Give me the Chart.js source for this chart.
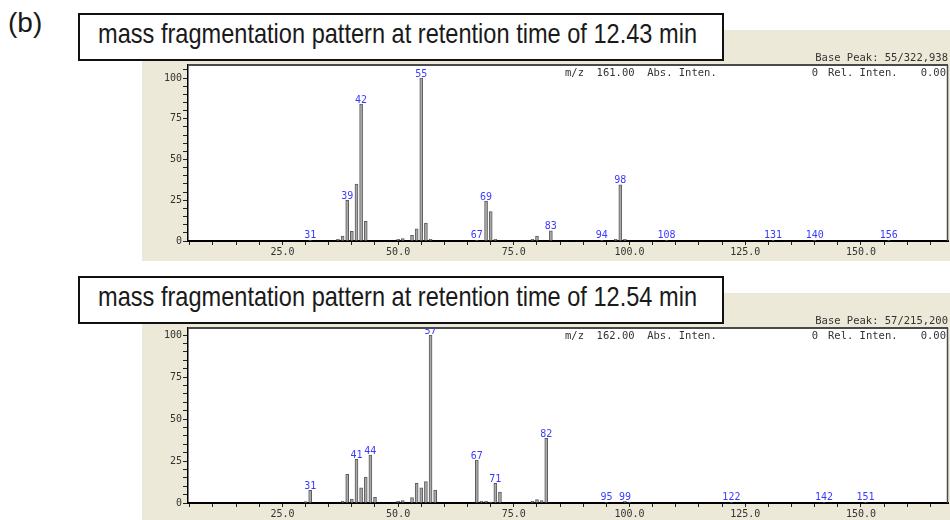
<!DOCTYPE html>
<html><head><meta charset="utf-8">
<script src="https://cdn.jsdelivr.net/npm/chart.js@4/dist/chart.umd.min.js"></script>
<style>
html,body{margin:0;padding:0;background:#fff;width:950px;height:520px;overflow:hidden;}
body{position:relative;font-family:'Liberation Sans',Arial,sans-serif;}
.panel{position:absolute;left:142px;width:808px;background:#ECE9D8;}
#p1{top:30px;height:231px;}
#p2{top:293px;height:227px;}
.panel canvas{position:absolute;left:0;top:0;}
.tbox{position:absolute;left:78px;width:646px;height:48px;border:2px solid #111;background:#fff;box-sizing:border-box;}
.ttxt{position:absolute;white-space:nowrap;font-size:28px;line-height:28px;color:#1a1a1a;transform-origin:0 50%;}
#blab{position:absolute;left:8px;top:9px;font-size:28px;line-height:28px;color:#1a1a1a;}
</style></head>
<body>
<div class="panel" id="p1"><canvas id="c1" width="808" height="231"></canvas></div>
<div class="panel" id="p2"><canvas id="c2" width="808" height="227"></canvas></div>
<div id="blab">(b)</div>
<div class="tbox" style="top:13px"></div>
<div class="ttxt" id="t1" style="left:98px;top:20px">mass fragmentation pattern at retention time of 12.43 min</div>
<div class="tbox" style="top:276px"></div>
<div class="ttxt" id="t2" style="left:98px;top:283px">mass fragmentation pattern at retention time of 12.54 min</div>
<script>
// ---- data: spectrum at 12.43 min ----
const mzTop = [31, 37, 38, 39, 40, 41, 42, 43, 50, 51, 53, 54, 55, 56, 57, 67, 69, 70, 71, 79, 80, 83, 94, 97, 98, 99, 108, 131, 140, 156];
const intTop = [0.4, 1, 3, 25, 6, 35, 84, 12, 1, 1.5, 3.5, 7.5, 100, 11, 1, 0.4, 24.5, 18, 1, 1, 3, 6.3, 0.4, 1, 34.5, 1, 0.4, 0.4, 0.4, 0.4];
const labelsTop = [31, 39, 42, 55, 67, 69, 83, 94, 98, 108, 131, 140, 156];
// ---- data: spectrum at 12.54 min ----
const mzBot = [30, 31, 38, 39, 40, 41, 42, 43, 44, 45, 50, 51, 53, 54, 55, 56, 57, 58, 67, 68, 69, 70, 71, 72, 79, 80, 81, 82, 95, 99, 100, 122, 142, 151];
const intBot = [0.8, 7.5, 1, 17, 2.4, 26, 9, 15.5, 28.6, 3.4, 1, 1.5, 3.3, 11.7, 9, 12.8, 100, 7.7, 25.6, 1, 1, 0.5, 11.7, 6.5, 1, 2, 1.5, 38.5, 0.4, 1, 0.5, 0.4, 0.4, 0.4];
const labelsBot = [31, 41, 44, 57, 67, 71, 82, 95, 99, 122, 142, 151];
// ---- axis ticks ----
const xTickVals = [5,10,15,20,25,30,35,40,45,50,55,60,65,70,75,80,85,90,95,100,105,110,115,120,125,130,135,140,145,150,155,160,165];
const xLabelVals = [25, 50, 75, 100, 125, 150];
const yTickVals = [0,5,10,15,20,25,30,35,40,45,50,55,60,65,70,75,80,85,90,95,100,105];
const yLabelVals = [0, 25, 50, 75, 100];
// header texts
const headTop = {base:'Base Peak: 55/322,938', mz:'m/z  161.00  Abs. Inten.'};
const headBot = {base:'Base Peak: 57/215,200', mz:'m/z  162.00  Abs. Inten.'};

function fitTitle(id, w){
  const el=document.getElementById(id);
  const nat=el.getBoundingClientRect().width;
  el.style.transform='scaleX('+(w/nat)+')';
}
fitTitle('t1',599); fitTitle('t2',599);

const MONO='"DejaVu Sans Mono", monospace';

const boxPlugin = {
  id:'plotBox',
  beforeDraw(chart){
    const {ctx, chartArea:a}=chart;
    ctx.save(); ctx.fillStyle='#fff'; ctx.fillRect(a.left,a.top,a.right-a.left,a.bottom-a.top); ctx.restore();
  },
  beforeDatasetsDraw(chart){
    const {ctx, chartArea:a}=chart;
    ctx.save(); ctx.strokeStyle='#4a4a4a'; ctx.lineWidth=2;
    ctx.beginPath(); ctx.moveTo(a.left,a.top); ctx.lineTo(a.right,a.top); ctx.stroke();
    ctx.lineWidth=1.5; ctx.beginPath(); ctx.moveTo(a.right-0.5,a.top); ctx.lineTo(a.right-0.5,a.bottom); ctx.stroke();
    ctx.restore();
  }
};
const peakPlugin = {
  id:'peakLabels',
  afterDatasetsDraw(chart, args, opts){
    const {ctx, chartArea:a, scales:{x,y}}=chart;
    const data=chart.data.datasets[0].data;
    ctx.save(); ctx.beginPath(); ctx.rect(a.left,a.top,a.right-a.left,a.bottom-a.top); ctx.clip();
    ctx.font='10px '+MONO; ctx.fillStyle='#3a3aff'; ctx.textAlign='center'; ctx.textBaseline='bottom';
    opts.list.forEach(m=>{
      const p=data.find(d=>d.x===m); if(!p) return;
      ctx.fillText(String(m), x.getPixelForValue(m), Math.min(y.getPixelForValue(p.y)+1, a.bottom-1));
    });
    ctx.restore();
  }
};
const headPlugin = {
  id:'headText',
  afterDraw(chart, args, opts){
    const {ctx, chartArea:a}=chart;
    ctx.save(); ctx.font='10.5px '+MONO; ctx.fillStyle='#333'; ctx.textBaseline='middle';
    ctx.textAlign='right'; ctx.fillText(opts.base, a.right, a.top-7);
    ctx.textAlign='left'; ctx.fillText(opts.mz, a.left+377, a.top+8);
    ctx.textAlign='right'; ctx.fillText('0', a.left+630, a.top+8);
    ctx.textAlign='left'; ctx.fillText('Rel. Inten.', a.left+640, a.top+8);
    ctx.textAlign='right'; ctx.fillText('0.00', a.right-2, a.top+8);
    ctx.restore();
  }
};

function makeChart(id, mz, inten, labs, yMax, xH, head){
  new Chart(document.getElementById(id), {
    type:'bar',
    data:{datasets:[{data: mz.map((m,i)=>({x:m, y:inten[i]})),
      backgroundColor:'#a9a9a9', borderColor:'#5c5c5c', borderWidth:1, borderSkipped:'bottom', barThickness:3}]},
    options:{
      responsive:false, animation:false, events:[],
      layout:{padding:{top:35, right:2, left:0, bottom:0}},
      plugins:{legend:{display:false}, tooltip:{enabled:false}, peakLabels:{list:labs}, headText:head},
      scales:{
        x:{type:'linear', min:4.6, max:168.8, offset:false,
          afterFit:s=>{s.height=xH;},
          afterBuildTicks:s=>{s.ticks=xTickVals.map(v=>({value:v}));},
          ticks:{autoSkip:false, maxRotation:0, padding:1, color:'#333', font:{family:MONO, size:10},
            callback:v=> xLabelVals.includes(v)? v.toFixed(1):''},
          grid:{offset:false, drawOnChartArea:false, tickLength:4, color:'#222'},
          border:{color:'#000', width:2}},
        y:{min:0, max:yMax,
          afterFit:s=>{s.width=46;},
          afterBuildTicks:s=>{s.ticks=yTickVals.filter(v=>v<=yMax).map(v=>({value:v}));},
          ticks:{autoSkip:false, padding:1, color:'#333', font:{family:MONO, size:10},
            callback:v=> yLabelVals.includes(v)? String(v):''},
          grid:{drawOnChartArea:false, tickLength:5, color:'#222'},
          border:{color:'#000', width:1.5}}
      }
    },
    plugins:[boxPlugin, peakPlugin, headPlugin]
  });
}
makeChart('c1', mzTop, intTop, labelsTop, 108, 20, headTop);
makeChart('c2', mzBot, intBot, labelsBot, 104.2, 17, headBot);
</script>
</body></html>
